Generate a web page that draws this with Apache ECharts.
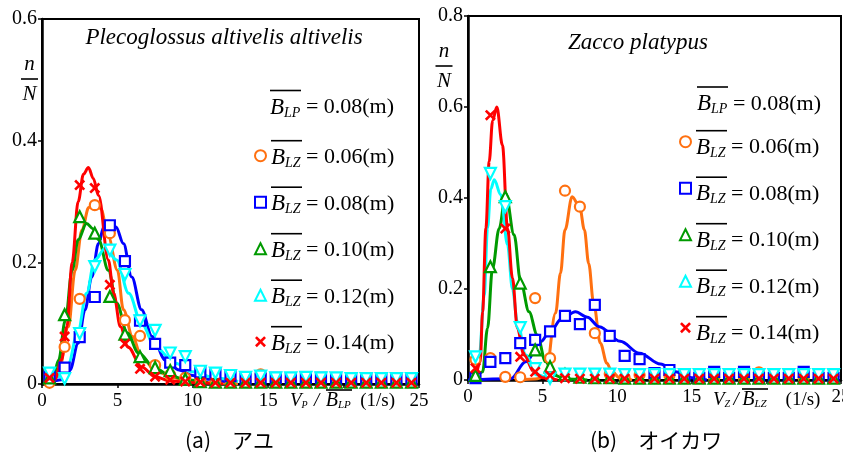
<!DOCTYPE html>
<html>
<head>
<meta charset="utf-8">
<script src="https://cdn.jsdelivr.net/npm/echarts@6.0.0/dist/echarts.min.js"></script>
<style>
  html, body { margin: 0; padding: 0; background: #fff; }
  #chart { width: 843px; height: 458px; }
</style>
</head>
<body>
<div id="chart"></div>
<script>
// bin centres shared by every measured series
const binX = [0.5, 1.5, 2.5, 3.5, 4.5, 5.5, 6.5, 7.5, 8.5, 9.5, 10.5, 11.5, 12.5,
  13.5, 14.5, 15.5, 16.5, 17.5, 18.5, 19.5, 20.5, 21.5, 22.5, 23.5, 24.5];

const groupNames = ['0.06', '0.08', '0.10', '0.12', '0.14'];
const groupColors = ['#ff7010', '#0000ff', '#009a00', '#00ffff', '#ff0000'];

const xTicks = [0, 5, 10, 15, 20, 25];
const yTicksAyu = [0, 0.2, 0.4, 0.6];
const yTicksOik = [0, 0.2, 0.4, 0.6, 0.8];

// (a) Ayu, measured n/N
const ayuPts006 = [0.002, 0.061, 0.14, 0.294, 0.248, 0.105, 0.079, 0.031, 0.015, 0.01, 0.008, 0.006, 0.005,
  0.004, 0.016, 0.004, 0.004, 0.004, 0.004, 0.003, 0.003, 0.003, 0.003, 0.003, 0.003];
const ayuPts008 = [0.012, 0.027, 0.077, 0.143, 0.261, 0.202, 0.104, 0.066, 0.035, 0.031, 0.019, 0.016, 0.013,
  0.009, 0.009, 0.01, 0.009, 0.01, 0.01, 0.009, 0.008, 0.008, 0.008, 0.008, 0.008];
const ayuPts010 = [0.01, 0.114, 0.275, 0.248, 0.144, 0.082, 0.045, 0.027, 0.022, 0.008, 0.004, 0.003, 0.003,
  0.003, 0.003, 0.003, 0.003, 0.003, 0.003, 0.003, 0.003, 0.003, 0.003, 0.003, 0.003];
const ayuPts012 = [0.018, 0.009, 0.083, 0.193, 0.22, 0.18, 0.104, 0.088, 0.051, 0.045, 0.021, 0.018, 0.014,
  0.011, 0.013, 0.01, 0.01, 0.011, 0.01, 0.01, 0.009, 0.009, 0.009, 0.009, 0.009];
const ayuPts014 = [0.01, 0.078, 0.327, 0.322, 0.163, 0.066, 0.025, 0.012, 0.007, 0.004, 0.003, 0.002, 0.002,
  0.002, 0.002, 0.002, 0.002, 0.002, 0.002, 0.002, 0.002, 0.002, 0.002, 0.002, 0.002];

// (a) Ayu, fitted curves
const ayuFitX006 = [0.5, 1.1, 1.75, 2.2, 2.65, 3.1, 3.5, 3.9, 4.4, 5.0, 5.4, 6.0, 6.6, 7.5, 8.5, 9.5, 11, 13];
const ayuFitY006 = [0.003, 0.018, 0.094, 0.187, 0.253, 0.29, 0.3, 0.288, 0.242, 0.187, 0.122, 0.078, 0.045, 0.023, 0.012, 0.006, 0.002, 0];
const ayuFitX008 = [0.5, 1.3, 1.85, 2.4, 2.85, 3.3, 3.75, 4.1, 4.45, 4.9, 5.4, 5.95, 6.6, 7.3, 8.2, 9.1, 10, 11, 12.5];
const ayuFitY008 = [0.002, 0.007, 0.023, 0.067, 0.122, 0.176, 0.231, 0.258, 0.267, 0.258, 0.231, 0.176, 0.122, 0.078, 0.039, 0.023, 0.014, 0.008, 0.002];
const ayuFitX010 = [0.4, 0.75, 1.1, 1.55, 2.0, 2.4, 2.95, 3.4, 3.75, 4.4, 4.95, 5.65, 6.4, 7.5, 8.5, 9.5, 11];
const ayuFitY010 = [0.003, 0.012, 0.039, 0.105, 0.187, 0.237, 0.264, 0.255, 0.237, 0.187, 0.133, 0.084, 0.051, 0.026, 0.014, 0.007, 0.002];
const ayuFitX012 = [0.5, 1.1, 1.75, 2.4, 2.95, 3.5, 4.2, 4.95, 5.75, 6.6, 7.5, 8.85, 10, 11.5, 13];
const ayuFitY012 = [0.003, 0.012, 0.034, 0.089, 0.149, 0.204, 0.223, 0.204, 0.149, 0.1, 0.061, 0.034, 0.02, 0.01, 0.004];
const ayuFitX014 = [0.5, 0.85, 1.3, 1.65, 2.0, 2.4, 2.75, 3.08, 3.4, 3.75, 4.4, 4.75, 5.2, 5.7, 6.6, 7.5, 8.5, 10, 12];
const ayuFitY014 = [0.001, 0.007, 0.04, 0.094, 0.2, 0.3, 0.345, 0.356, 0.338, 0.31, 0.204, 0.149, 0.094, 0.061, 0.028, 0.012, 0.005, 0.002, 0];

// (b) Oikawa, measured n/N
const oikPts006 = [0.045, 0.048, 0.007, 0.006, 0.18, 0.048, 0.416, 0.381, 0.103, 0.013, 0.005, 0.011, 0.004,
  0.01, 0.004, 0.004, 0.004, 0.004, 0.004, 0.017, 0.004, 0.004, 0.004, 0.004, 0.008];
const oikPts008 = [0.004, 0.04, 0.048, 0.081, 0.088, 0.107, 0.141, 0.123, 0.165, 0.097, 0.053, 0.046, 0.015,
  0.022, 0.01, 0.005, 0.018, 0.005, 0.018, 0.005, 0.005, 0.005, 0.018, 0.005, 0.005];
const oikPts010 = [0.01, 0.249, 0.403, 0.213, 0.066, 0.029, 0.012, 0.006, 0.005, 0.005, 0.004, 0.004, 0.004,
  0.004, 0.004, 0.004, 0.004, 0.004, 0.004, 0.004, 0.004, 0.004, 0.004, 0.004, 0.004];
const oikPts012 = [0.051, 0.454, 0.381, 0.115, 0.025, 0.004, 0.013, 0.013, 0.013, 0.013, 0.012, 0.012, 0.012,
  0.012, 0.012, 0.012, 0.012, 0.012, 0.012, 0.012, 0.012, 0.012, 0.012, 0.012, 0.012];
const oikPts014 = [0.026, 0.582, 0.333, 0.051, 0.018, 0.01, 0.004, 0.003, 0.003, 0.003, 0.003, 0.003, 0.003,
  0.003, 0.003, 0.003, 0.003, 0.003, 0.003, 0.003, 0.003, 0.003, 0.003, 0.003, 0.003];

// (b) Oikawa, fitted curves
const oikFitX006 = [3.5, 4.5, 5.2, 5.87, 6.2, 6.5, 6.98, 7.49, 7.8, 8.09, 8.42, 8.87, 9.31, 9.64, 10.2, 11];
const oikFitY006 = [0, 0.002, 0.007, 0.147, 0.235, 0.33, 0.403, 0.38, 0.33, 0.256, 0.169, 0.081, 0.037, 0.018, 0.004, 0];
const oikFitX008 = [0, 2.87, 3.87, 4.87, 5.5, 6.3, 7.2, 8.0, 8.8, 10.2, 11.5, 12.9, 13.9, 15, 16];
const oikFitY008 = [0, 0.003, 0.04, 0.084, 0.107, 0.135, 0.15, 0.138, 0.117, 0.085, 0.059, 0.035, 0.018, 0.005, 0];
const oikFitX010 = [0.5, 0.98, 1.31, 1.64, 2.09, 2.53, 3.09, 3.53, 4.09, 4.64, 5.2, 5.76, 6.5, 8];
const oikFitY010 = [0.002, 0.018, 0.114, 0.245, 0.333, 0.41, 0.319, 0.216, 0.15, 0.099, 0.04, 0.011, 0.002, 0];
const oikFitX012 = [0.55, 0.76, 1.09, 1.31, 1.53, 1.76, 2.2, 2.65, 2.98, 3.31, 3.87, 4.64, 5.5];
const oikFitY012 = [0, 0.055, 0.187, 0.334, 0.42, 0.44, 0.407, 0.297, 0.2, 0.128, 0.055, 0.011, 0];
const oikFitX014 = [0.5, 0.82, 0.98, 1.2, 1.42, 1.65, 1.93, 2.31, 2.65, 2.98, 3.31, 3.75, 4.42, 5.0, 6];
const oikFitY014 = [0, 0.04, 0.15, 0.334, 0.48, 0.57, 0.6, 0.516, 0.333, 0.224, 0.114, 0.055, 0.018, 0.005, 0];

const ayuPts = [ayuPts006, ayuPts008, ayuPts010, ayuPts012, ayuPts014];
const oikPts = [oikPts006, oikPts008, oikPts010, oikPts012, oikPts014];
const ayuFits = [[ayuFitX006, ayuFitY006], [ayuFitX008, ayuFitY008], [ayuFitX010, ayuFitY010], [ayuFitX012, ayuFitY012], [ayuFitX014, ayuFitY014]];
const oikFits = [[oikFitX006, oikFitY006], [oikFitX008, oikFitY008], [oikFitX010, oikFitY010], [oikFitX012, oikFitY012], [oikFitX014, oikFitY014]];

const serif = "'Liberation Serif', 'Times New Roman', serif";
const crossPath = 'path://M0,2L2,0L6,4L10,0L12,2L8,6L12,10L10,12L6,8L2,12L0,10L4,6Z';
const markers = [
	{ symbol: 'circle', symbolSize: 10, rotate: 0, hollow: true },
	{ symbol: 'rect', symbolSize: 10, rotate: 0, hollow: true },
	{ symbol: 'triangle', symbolSize: 11, rotate: 0, hollow: true },
	{ symbol: 'triangle', symbolSize: 11, rotate: 180, hollow: true },
	{ symbol: crossPath, symbolSize: 11, rotate: 0, hollow: false }
];

// overlined "B" with subscript: first row holds the bar, second the text
function overRich(h1, l2, barW) {
	return {
		ol: { width: barW, height: 1.6, lineHeight: h1, backgroundColor: '#000', verticalAlign: 'middle' },
		b: { fontFamily: serif, fontStyle: 'italic', fontSize: 23, lineHeight: l2, color: '#000', fill: '#000', verticalAlign: 'middle' },
		s: { fontFamily: serif, fontStyle: 'italic', fontSize: 14, lineHeight: l2, padding: [11, 0, 0, 0], color: '#000', fill: '#000', verticalAlign: 'middle' },
		t: { fontFamily: serif, fontSize: 22, lineHeight: l2, color: '#000', fill: '#000', verticalAlign: 'middle' }
	};
}
const richL = overRich(4, 30, 31);
const richR = overRich(12, 22, 31);

function axisRich(spW, slW) {
	return {
		sp: { width: spW, height: 1, lineHeight: 2, verticalAlign: 'middle' },
		ol: { width: 26, height: 1.6, lineHeight: 2, backgroundColor: '#000', verticalAlign: 'middle' },
		v: { fontFamily: serif, fontStyle: 'italic', fontSize: 19, lineHeight: 20, fill: '#000', verticalAlign: 'middle' },
		vs: { fontFamily: serif, fontStyle: 'italic', fontSize: 10, lineHeight: 20, padding: [9, 0, 0, 0], fill: '#000', verticalAlign: 'middle' },
		sl: { fontFamily: serif, fontStyle: 'italic', fontSize: 19, lineHeight: 20, width: slW, align: 'center', fill: '#000', verticalAlign: 'middle' },
		b: { fontFamily: serif, fontStyle: 'italic', fontSize: 20, lineHeight: 20, fill: '#000', verticalAlign: 'middle' },
		bs: { fontFamily: serif, fontStyle: 'italic', fontSize: 11, lineHeight: 20, padding: [9, 0, 0, 0], fill: '#000', verticalAlign: 'middle' },
		u: { fontFamily: serif, fontSize: 19, lineHeight: 20, fill: '#000', verticalAlign: 'middle' }
	};
}

const fracRich = {
	n: { fontFamily: serif, fontStyle: 'italic', fontSize: 21, lineHeight: 24, fill: '#000', verticalAlign: 'middle' },
	fb: { width: 17, height: 1.6, lineHeight: 6, backgroundColor: '#000', verticalAlign: 'middle' }
};

function buildSeries(pts, fits, axisIndex) {
	const lines = fits.map(([xs, ys], i) => ({
		name: 'fit' + axisIndex + i,
		type: 'line',
		xAxisIndex: axisIndex,
		yAxisIndex: axisIndex,
		data: xs.map((x, k) => [x, ys[k]]),
		smooth: 0.35,
		smoothMonotone: 'x',
		showSymbol: false,
		symbol: 'none',
		lineStyle: { width: 3, color: groupColors[i] },
		z: 2,
		silent: true
	}));
	const dots = pts.map((vals, i) => {
		const m = markers[i];
		return {
			name: groupNames[i],
			type: 'scatter',
			xAxisIndex: axisIndex,
			yAxisIndex: axisIndex,
			data: binX.map((x, k) => [x, vals[k]]),
			symbol: m.symbol,
			symbolSize: m.symbolSize,
			symbolRotate: m.rotate,
			itemStyle: m.hollow
				? { color: '#fff', borderColor: groupColors[i], borderWidth: 2.2, opacity: 1 }
				: { color: groupColors[i], borderWidth: 0, opacity: 1 },
			z: 3 + i
		};
	});
	return lines.concat(dots);
}

function xAxisFor(gridIndex) {
	return {
		gridIndex,
		type: 'value',
		min: xTicks[0],
		max: xTicks[xTicks.length - 1],
		interval: 5,
		axisLine: { lineStyle: { color: '#000', width: 2.5 } },
		axisTick: { show: true, inside: false, length: 4, lineStyle: { color: '#000', width: 1.5 } },
		axisLabel: {
			color: '#000', fontFamily: serif, fontSize: 19, margin: 8,
			formatter: v => (v === 20 ? '' : String(v))
		},
		splitLine: { show: false }
	};
}

function yAxisFor(gridIndex, ticks) {
	return {
		gridIndex,
		type: 'value',
		min: 0,
		max: ticks[ticks.length - 1],
		interval: 0.2,
		axisLine: { show: true, lineStyle: { color: '#000', width: 2.5 } },
		axisTick: { show: true, inside: false, length: 4, lineStyle: { color: '#000', width: 1.5 } },
		axisLabel: {
			color: '#000', fontFamily: serif, fontSize: 20, margin: 5,
			formatter: v => String(+v.toFixed(1))
		},
		splitLine: { show: false }
	};
}

const legendBase = {
	data: groupNames,
	orient: 'vertical',
	padding: 0,
	itemGap: 11,
	itemWidth: 11,
	itemHeight: 11,
	selectedMode: false,
	formatter: n => `{ol|}\n{b|B}{s|LZ}{t| = ${n}(m)}`
};

const chart = echarts.init(document.getElementById('chart'));

const option = {
	animation: false,
	backgroundColor: '#fff',
	grid: [
		{ left: 42, top: 19, width: 377, height: 365, show: true, borderColor: '#000', borderWidth: 2, outerBoundsMode: 'none', containLabel: false },
		{ left: 468, top: 16, width: 373, height: 364, show: true, borderColor: '#000', borderWidth: 2, outerBoundsMode: 'none', containLabel: false }
	],
	xAxis: [xAxisFor(0), xAxisFor(1)],
	yAxis: [yAxisFor(0, yTicksAyu), yAxisFor(1, yTicksOik)],
	legend: [
		Object.assign({}, legendBase, { left: 254, top: 134.7, textStyle: { rich: richL } }),
		Object.assign({}, legendBase, { left: 679, top: 124.7, textStyle: { rich: richR } })
	],
	graphic: [
		{ type: 'text', x: 224, y: 38, style: { text: 'Plecoglossus altivelis altivelis', fontFamily: serif, fontStyle: 'italic', fontSize: 23, fill: '#000', align: 'center', verticalAlign: 'middle' } },
		{ type: 'text', x: 638, y: 43, style: { text: 'Zacco platypus', fontFamily: serif, fontStyle: 'italic', fontSize: 23, fill: '#000', align: 'center', verticalAlign: 'middle' } },
		{ type: 'text', x: 29.5, y: 52, style: { text: '{n|n}\n{fb|}\n{n|N}', rich: fracRich, fill: '#000', align: 'center', verticalAlign: 'top' } },
		{ type: 'text', x: 444, y: 39, style: { text: '{n|n}\n{fb|}\n{n|N}', rich: fracRich, fill: '#000', align: 'center', verticalAlign: 'top' } },
		{ type: 'text', x: 270, y: 88.5, style: { text: '{ol|}\n{b|B}{s|LP}{t| = 0.08(m)}', rich: richL, fill: '#000', align: 'left', verticalAlign: 'top' } },
		{ type: 'text', x: 697, y: 81, style: { text: '{ol|}\n{b|B}{s|LP}{t| = 0.08(m)}', rich: richR, fill: '#000', align: 'left', verticalAlign: 'top' } },
		{ type: 'text', x: 290, y: 389, style: { text: '{sp|}{ol|}\n{v|V}{vs|P}{sl|/}{b|B}{bs|LP}{u|  (1/s)}', rich: axisRich(36, 18), fill: '#000', align: 'left', verticalAlign: 'top' } },
		{ type: 'text', x: 713, y: 388, style: { text: '{sp|}{ol|}\n{v|V}{vs|Z}{sl|/}{b|B}{bs|LZ}{u|    (1/s)}', rich: axisRich(29, 12), fill: '#000', align: 'left', verticalAlign: 'top' } },
		{ type: 'text', x: 185, y: 440, style: { text: '(a)　アユ', fontFamily: "'Noto Sans CJK JP', sans-serif", fontSize: 21, fill: '#000', align: 'left', verticalAlign: 'middle' } },
		{ type: 'text', x: 590, y: 440, style: { text: '(b)　オイカワ', fontFamily: "'Noto Sans CJK JP', sans-serif", fontSize: 21, fill: '#000', align: 'left', verticalAlign: 'middle' } }
	],
	series: buildSeries(ayuPts, ayuFits, 0).concat(buildSeries(oikPts, oikFits, 1))
};

chart.setOption(option);
</script>
</body>
</html>
